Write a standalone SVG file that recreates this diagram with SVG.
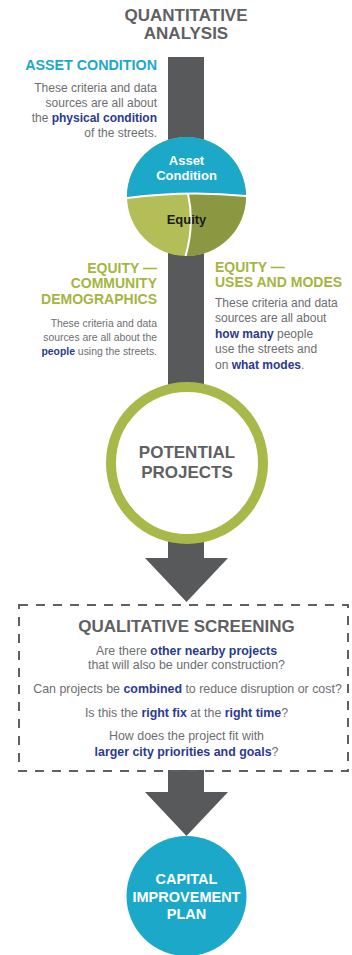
<svg xmlns="http://www.w3.org/2000/svg" width="352" height="955" viewBox="0 0 352 955">
<style>
text{font-family:"Liberation Sans",Arial,sans-serif}
.title{font-size:17px;font-weight:bold;fill:#5f6062;text-anchor:middle}
.hcyan{font-size:14.3px;font-weight:bold;fill:#1ba8c9}
.hgreen{font-size:14px;font-weight:bold;fill:#a5b53f}
.body{font-size:12px;fill:#6d6e71}
.bodys{font-size:10.4px;fill:#6d6e71}
.box{font-size:12.4px;fill:#6d6e71;text-anchor:middle}
.b{font-weight:bold;fill:#2b3990}
.end{text-anchor:end}
.mid{text-anchor:middle}
.conn{fill:#58595b}
</style>
<rect width="352" height="955" fill="#ffffff"/>
<g id="connectors">
<rect class="conn" x="168" y="57" width="36" height="502"/>
<polygon class="conn" points="145,558 228,558 186.5,602"/>
<rect class="conn" x="168" y="770" width="36" height="23"/>
<polygon class="conn" points="145,792 228,792 186.5,836"/>
</g>
<g id="title">
<text class="title" x="186" y="21">QUANTITATIVE</text>
<text class="title" x="186" y="39">ANALYSIS</text>
</g>
<g id="asset-condition-note">
<text class="hcyan end" x="157" y="70">ASSET CONDITION</text>
<text class="body end" x="157" y="92">These criteria and data</text>
<text class="body end" x="157" y="107">sources are all about</text>
<text class="body end" x="157" y="122">the <tspan class="b">physical condition</tspan></text>
<text class="body end" x="157" y="137">of the streets.</text>
</g>
<g id="criteria-circle">
<clipPath id="cc"><circle cx="186.5" cy="196.5" r="59.5"/></clipPath>
<g clip-path="url(#cc)">
<rect x="120" y="130" width="140" height="140" fill="#b3be58"/>
<path d="M188,190 Q195,225 185,260 L260,260 L260,190 Z" fill="#8c9841"/>
<path d="M120,130 L260,130 L260,196 L246,196 Q187,190 127,198 L120,198 Z" fill="#1ba8c9"/>
<path d="M127,198 Q187,190 246,196" fill="none" stroke="#ffffff" stroke-width="2"/>
<path d="M188,194 Q195,225 185,258" fill="none" stroke="#ffffff" stroke-width="2"/>
</g>
<text class="mid" x="186.5" y="165" font-size="13" font-weight="bold" fill="#ffffff">Asset</text>
<text class="mid" x="186.5" y="180" font-size="13" font-weight="bold" fill="#ffffff">Condition</text>
<text class="mid" x="186.5" y="224" font-size="13" font-weight="bold" fill="#1a1a1a">Equity</text>
</g>
<g id="equity-community-note">
<text class="hgreen end" x="157" y="273">EQUITY —</text>
<text class="hgreen end" x="157" y="288">COMMUNITY</text>
<text class="hgreen end" x="157" y="304">DEMOGRAPHICS</text>
<text class="bodys end" x="157" y="327">These criteria and data</text>
<text class="bodys end" x="157" y="341">sources are all about the</text>
<text class="bodys end" x="157" y="355"><tspan class="b">people</tspan> using the streets.</text>
</g>
<g id="equity-uses-note">
<text class="hgreen" x="215" y="272">EQUITY —</text>
<text class="hgreen" x="215" y="287">USES AND MODES</text>
<text class="body" x="215" y="307">These criteria and data</text>
<text class="body" x="215" y="322">sources are all about</text>
<text class="body" x="215" y="338"><tspan class="b">how many</tspan> people</text>
<text class="body" x="215" y="353">use the streets and</text>
<text class="body" x="215" y="369">on <tspan class="b">what modes</tspan>.</text>
</g>
<g id="potential-projects">
<circle cx="187" cy="463" r="76" fill="#ffffff" stroke="#a8b94a" stroke-width="10"/>
<text class="title" x="187" y="458" font-size="16">POTENTIAL</text>
<text class="title" x="187" y="478" font-size="16">PROJECTS</text>
</g>
<g id="qualitative-screening">
<rect x="19" y="605" width="329" height="166" fill="none" stroke="#5f6062" stroke-width="2" stroke-dasharray="9 8"/>
<text class="title" x="186.5" y="632" font-size="16.5">QUALITATIVE SCREENING</text>
<text class="box" x="186.5" y="655">Are there <tspan class="b">other nearby projects</tspan></text>
<text class="box" x="186.5" y="669">that will also be under construction?</text>
<text class="box" x="187.5" y="693">Can projects be <tspan class="b">combined</tspan> to reduce disruption or cost?</text>
<text class="box" x="186.5" y="717">Is this the <tspan class="b">right fix</tspan> at the <tspan class="b">right time</tspan>?</text>
<text class="box" x="186.5" y="740">How does the project fit with</text>
<text class="box" x="186.5" y="756"><tspan class="b">larger city priorities and goals</tspan>?</text>
</g>
<g id="capital-improvement-plan">
<circle cx="186.5" cy="896" r="60" fill="#1ba8c9"/>
<text class="mid" x="186.5" y="884" font-size="14.5" font-weight="bold" fill="#ffffff">CAPITAL</text>
<text class="mid" x="186.5" y="902" font-size="14.5" font-weight="bold" fill="#ffffff">IMPROVEMENT</text>
<text class="mid" x="186.5" y="919" font-size="14.5" font-weight="bold" fill="#ffffff">PLAN</text>
</g>
</svg>
